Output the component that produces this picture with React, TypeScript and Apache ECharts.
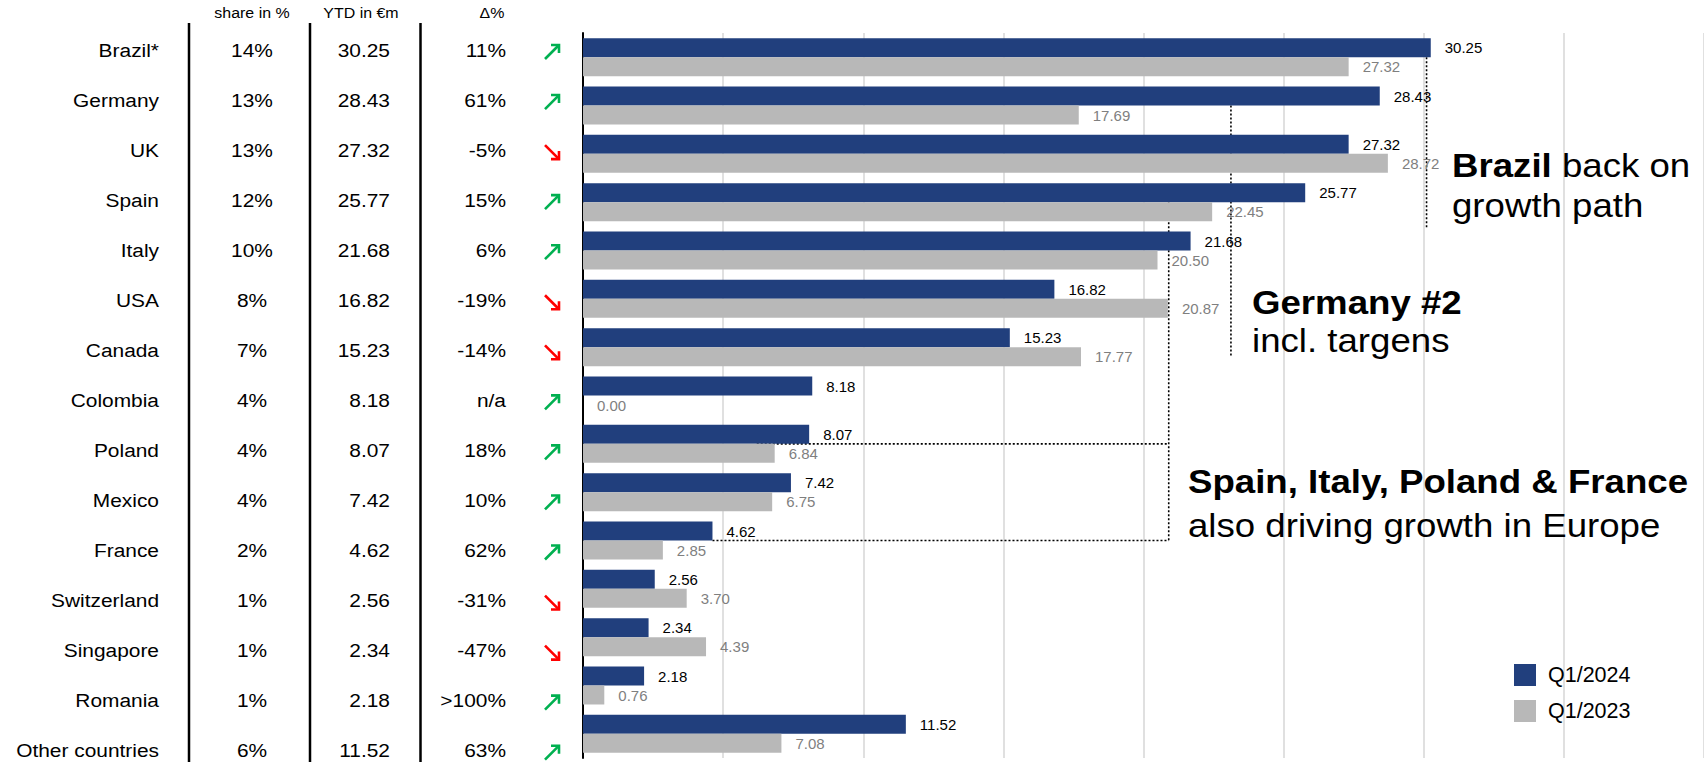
import React, { useEffect, useRef } from "react";
import * as echarts from "echarts";

const countries = ["Brazil*", "Germany", "UK", "Spain", "Italy", "USA", "Canada", "Colombia", "Poland", "Mexico", "France", "Switzerland", "Singapore", "Romania", "Other countries"];
const shares = ["14%", "13%", "13%", "12%", "10%", "8%", "7%", "4%", "4%", "4%", "2%", "1%", "1%", "1%", "6%"];
const q2024 = [30.25, 28.43, 27.32, 25.77, 21.68, 16.82, 15.23, 8.18, 8.07, 7.42, 4.62, 2.56, 2.34, 2.18, 11.52];
const q2023 = [27.32, 17.69, 28.72, 22.45, 20.5, 20.87, 17.77, 0.0, 6.84, 6.75, 2.85, 3.7, 4.39, 0.76, 7.08];
const deltas = ["11%", "61%", "-5%", "15%", "6%", "-19%", "-14%", "n/a", "18%", "10%", "62%", "-31%", "-47%", ">100%", "63%"];
const trendUp = [true, true, false, true, true, false, false, true, true, true, true, false, false, true, true];
const headers = ["share in %", "YTD in €m", "Δ%"];
const seriesNames = ["Q1/2024", "Q1/2023"];
const xTicks = { min: 0, max: 40, interval: 5 };

const FONT = "'Liberation Sans', Arial, Helvetica, sans-serif";
const BLUE = "#213f7d";
const GRAY = "#b8b8b8";

export default function App() {
  const ref = useRef<HTMLDivElement>(null);

  useEffect(() => {
    if (!ref.current) return;
    const chart = echarts.init(ref.current, null, { renderer: "svg" });
    const option: any = {
      animation: false,
      backgroundColor: "#ffffff",
      textStyle: { fontFamily: FONT },
      grid: { left: 583, top: 33, width: 1123, height: 725, containLabel: false },
      legend: {
        data: seriesNames,
        orient: "vertical",
        left: 1514,
        top: 664,
        itemWidth: 22,
        itemHeight: 22,
        itemGap: 14,
        icon: "rect",
        padding: 0,
        textStyle: { fontSize: 21.5, color: "#000", fontFamily: FONT, padding: [0, 0, 0, 7] },
      },
      xAxis: {
        type: "value",
        min: xTicks.min,
        max: xTicks.max,
        interval: xTicks.interval,
        axisLabel: { show: false },
        axisLine: { show: false },
        axisTick: { show: false },
        splitLine: { show: true, lineStyle: { color: "#d6d6d6", width: 1.5 } },
      },
      yAxis: {
        type: "category",
        data: countries,
        inverse: true,
        axisLabel: { show: false },
        axisTick: { show: false },
        axisLine: { show: true, lineStyle: { color: "#000", width: 2 } },
        splitLine: { show: false },
      },
      series: [
        {
          name: seriesNames[0],
          type: "bar",
          data: q2024,
          barWidth: 19,
          barGap: "0%",
          itemStyle: { color: BLUE },
          silent: true,
          label: {
            show: true,
            position: "right",
            distance: 14,
            color: "#000",
            fontSize: 15,
            fontFamily: FONT,
            formatter: (p: any) => Number(p.value).toFixed(2),
          },
        },
        {
          name: seriesNames[1],
          type: "bar",
          data: q2023,
          barWidth: 19,
          barGap: "0%",
          itemStyle: { color: GRAY },
          silent: true,
          label: {
            show: true,
            position: "right",
            distance: 14,
            color: "#7f7f7f",
            fontSize: 15,
            fontFamily: FONT,
            formatter: (p: any) => Number(p.value).toFixed(2),
          },
        },
      ],
    };
    chart.setOption(option);

    const px = (v: number, c: string) => chart.convertToPixel({ gridIndex: 0 }, [v, c]) as number[];

    const els: any[] = [];
    const SX = 1.1;
    const tableFont = 19;
    const rowY = (i: number) => 50 + i * 50.05;

    // headers
    const headerX = [252, 361, 492];
    headers.forEach((h, i) => {
      els.push({
        type: "text",
        x: headerX[i],
        y: 13,
        scaleX: SX,
        style: { text: h, fontSize: 14.5, fontFamily: FONT, fill: "#000", align: "center", verticalAlign: "middle" },
      });
    });

    // column separators
    [189, 310, 420.5].forEach((x) => {
      els.push({ type: "line", shape: { x1: x, y1: 23, x2: x, y2: 762 }, style: { stroke: "#000", lineWidth: 2.5 } });
    });

    countries.forEach((c, i) => {
      const y = rowY(i);
      els.push({ type: "text", x: 159, y, scaleX: SX, style: { text: c, fontSize: tableFont, fontFamily: FONT, fill: "#000", align: "right", verticalAlign: "middle" } });
      els.push({ type: "text", x: 252, y, scaleX: SX, style: { text: shares[i], fontSize: tableFont, fontFamily: FONT, fill: "#000", align: "center", verticalAlign: "middle" } });
      els.push({ type: "text", x: 390, y, scaleX: SX, style: { text: q2024[i].toFixed(2), fontSize: tableFont, fontFamily: FONT, fill: "#000", align: "right", verticalAlign: "middle" } });
      els.push({ type: "text", x: 506, y, scaleX: SX, style: { text: deltas[i], fontSize: tableFont, fontFamily: FONT, fill: "#000", align: "right", verticalAlign: "middle" } });
      const cx = 552;
      const cy = y + 2;
      const d = 7;
      if (trendUp[i]) {
        const col = "#00b050";
        els.push({ type: "line", shape: { x1: cx - d, y1: cy + d, x2: cx + d - 1, y2: cy - d + 1 }, style: { stroke: col, lineWidth: 2.6 } });
        els.push({ type: "polyline", shape: { points: [[cx - 1, cy - d], [cx + d, cy - d], [cx + d, cy + 1]] }, style: { stroke: col, lineWidth: 2.6, fill: null } });
      } else {
        const col = "#ff0000";
        els.push({ type: "line", shape: { x1: cx - d, y1: cy - d, x2: cx + d - 1, y2: cy + d - 1 }, style: { stroke: col, lineWidth: 2.6 } });
        els.push({ type: "polyline", shape: { points: [[cx + d, cy - 1], [cx + d, cy + d], [cx - 1, cy + d]] }, style: { stroke: col, lineWidth: 2.6, fill: null } });
      }
    });

    // dotted annotation lines
    const dot = { stroke: "#000", lineWidth: 1.6, lineDash: [2, 2] };
    const pBrTop = px(30.1, countries[0]);
    const pBrBot = px(30.1, countries[3]);
    els.push({ type: "line", shape: { x1: pBrTop[0], y1: pBrTop[1], x2: pBrBot[0], y2: pBrBot[1] + 26 }, style: dot });
    const pDeTop = px(23.12, countries[1]);
    const pDeBot = px(23.12, countries[6]);
    els.push({ type: "line", shape: { x1: pDeTop[0], y1: pDeTop[1], x2: pDeBot[0], y2: pDeBot[1] + 9 }, style: dot });
    const pEsTop = px(20.9, countries[3]);
    const pEsBot = px(20.9, countries[10]);
    els.push({ type: "line", shape: { x1: pEsTop[0], y1: pEsTop[1], x2: pEsBot[0], y2: pEsBot[1] }, style: dot });
    const pPl = px(6.2, countries[8]);
    const pPlEnd = px(20.9, countries[8]);
    els.push({ type: "line", shape: { x1: pPl[0], y1: pPl[1], x2: pPlEnd[0], y2: pPlEnd[1] }, style: dot });
    const pFr = px(q2024[10], countries[10]);
    els.push({ type: "line", shape: { x1: pFr[0], y1: pFr[1], x2: pEsBot[0], y2: pEsBot[1] }, style: dot });

    // annotations
    const AF = 33;
    const ASX = 1.11;
    const rich = {
      b: { fontSize: AF, fontWeight: "bold", fontFamily: FONT, fill: "#000" },
      r: { fontSize: AF, fontFamily: FONT, fill: "#000" },
    };
    const ann = (x: number, yMid: number, text: string) => {
      els.push({ type: "text", x, y: yMid, scaleX: ASX, style: { text, rich, fontSize: AF, fontFamily: FONT, fill: "#000", align: "left", verticalAlign: "middle" } });
    };
    ann(1452, 165.5, "{b|Brazil}{r| back on}");
    ann(1452, 205.5, "{r|growth path}");
    ann(1252, 302, "{b|Germany #2}");
    ann(1252, 340, "{r|incl. targens}");
    ann(1188, 481, "{b|Spain, Italy, Poland & France}");
    ann(1188, 525, "{r|also driving growth in Europe}");

    chart.setOption({ graphic: { elements: els } });

    return () => chart.dispose();
  }, []);

  return <div ref={ref} style={{ position: "absolute", left: 0, top: 0, width: 1704, height: 762 }} />;
}
